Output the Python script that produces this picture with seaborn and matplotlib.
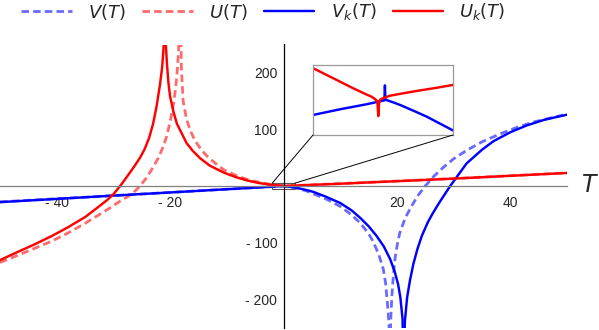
import matplotlib
matplotlib.use("Agg")
import numpy as np
import pandas as pd
import seaborn as sns
import matplotlib.pyplot as plt
from matplotlib.patches import Rectangle, ConnectionPatch
from matplotlib.lines import Line2D

# ---------------- data ----------------
# V(T) dashed light blue, two branches around its pole (~T=18.7)
V_T_a = [-50, -40, -30, -20, -10, -5, 0, 2, 4, 5.3, 7.5, 10, 12, 13.5, 15, 15.8, 16.8, 17.6, 18.0, 18.3, 18.6, 18.72]
V_a = [-28, -22.5, -17, -11.3, -5.7, -2.8, 0, -3, -8.5, -14, -23, -36, -51, -65, -84, -98, -121, -147, -171, -204, -243, -300]
V_T_b = [18.82, 18.9, 19.1, 19.4, 19.7, 20.1, 20.5, 21.5, 22.5, 23.7, 25.0, 26.5, 28.2, 30, 32.3, 35, 38.2, 41, 44.1, 47, 50]
V_b = [-300, -240, -196, -155, -126, -102, -83, -56, -37, -17, 0, 17, 33, 48, 63, 78, 92, 103, 113, 120, 127]

# U(T) dashed light red, pole near T=-18.3
U_T_a = [-50, -47, -44.1, -41, -38.2, -35, -32.4, -30.5, -28.8, -27.5, -26.5, -25.3, -24.2, -23.0, -22.0, -21.2, -20.6, -20.0, -19.4, -19.0, -18.7, -18.5, -18.37]
U_a = [-135, -123, -111, -98, -84, -66, -50, -38, -26.5, -19, -12, 0, 14, 33, 51, 70, 88, 113, 145, 175, 208, 240, 300]
U_T_b = [-18.15, -18.0, -17.7, -17.1, -16.4, -15.6, -14.5, -13.5, -12, -10.6, -8, -5.9, -3, 0, 10, 20, 30, 40, 50]
U_b = [300, 205, 150, 118, 97, 80, 64, 53, 40, 29, 17, 10, 4, 0, 4.3, 8.7, 13.2, 18.2, 23.3]

# V_k(T) solid blue, pole near T=21.2
Vk_T_a = [-50, -40, -30, -20, -10, -5, 0, 2, 4, 5.3, 7.5, 10, 12, 13.5, 15, 16.4, 17.7, 18.8, 19.6, 20.2, 20.6, 21.0, 21.12]
Vk_a = [-28.5, -22.8, -17, -11.4, -5.7, -2.9, 0, -2.5, -7, -10.5, -19, -30, -43, -56, -71, -88, -107, -129, -151, -173, -196, -235, -300]
Vk_T_b = [21.25, 21.4, 21.8, 22.3, 22.9, 23.6, 24.4, 25.5, 26.4, 27.5, 29.4, 32.3, 35, 37, 40, 42.9, 46, 50]
Vk_b = [-300, -240, -197, -167, -138, -112, -88, -63, -47, -29, 0, 40, 64, 79, 95, 107, 117, 126]

# U_k(T) solid red, pole near T=-21
Uk_T_a = [-50, -47, -44.1, -41, -38.2, -35, -32.4, -31, -30, -28.8, -27.6, -26.5, -25.3, -24.5, -23.7, -23.0, -22.4, -21.8, -21.4, -21.15, -21.03]
Uk_a = [-131, -117, -104, -89, -74, -55, -35, -24, -14.5, 0, 16.5, 32, 50, 65, 85, 110, 140, 178, 210, 245, 300]
Uk_T_b = [-20.93, -20.75, -20.55, -20.3, -20.0, -19.4, -18.8, -17.7, -17.1, -16, -14.7, -13, -10.6, -8.5, -6.5, -4.5, -2.4, 0, 10, 20, 30, 40, 50]
Uk_b = [300, 250, 215, 183, 158, 131, 110, 88, 76, 62, 49, 36, 24, 16, 10, 5.5, 2.5, 0, 4, 8.5, 13, 18, 23]

# inset (zoom on -2 <= T <= 2)
Uk_in_T = [-2.0, -1.42, -0.85, -0.5, -0.32, -0.22, -0.16, -0.135, -0.11, -0.08, -0.03, 0.2, 0.6, 0.96, 1.5, 2.0]
Uk_in = [4.55, 3.1, 1.67, 0.85, 0.45, 0.1, -0.2, -2.3, -0.3, 0.05, 0.2, 0.61, 0.98, 1.29, 1.72, 2.16]
Vk_in_T = [-2.0, -1.23, -0.47, -0.13, 0.04, 0.055, 0.07, 0.11, 0.3, 0.49, 0.9, 1.25, 1.6, 2.0]
Vk_in = [-2.14, -1.33, -0.61, -0.24, -0.05, 2.1, 0.0, -0.02, -0.35, -0.71, -1.6, -2.38, -3.3, -4.35]

x_major = [-40, -20, 20, 40]
x_labels = ["- 40", "- 20", "20", "40"]
y_major = [-200, -100, 100, 200]
y_labels = ["- 200", "- 100", "100", "200"]

legend_labels = [r"$V(T)$", r"$U(T)$", r"$V_k(T)$", r"$U_k(T)$"]

# ---------------- styling ----------------
sns.set_style("white")
plt.rcParams["font.family"] = ["Liberation Sans", "DejaVu Sans"]

C_V = "#6a6aff"
C_U = "#ff6a6a"
C_VK = "#0000ff"
C_UK = "#ff0000"
DASH = (0, (2.7, 1.5))
LW_D = 2.0
LW_S = 1.75


def frame(Ta, Ya, Tb, Yb):
    return pd.DataFrame({
        "T": list(Ta) + list(Tb),
        "val": list(Ya) + list(Yb),
        "branch": ["a"] * len(Ta) + ["b"] * len(Tb),
    })


fig = plt.figure(figsize=(5.99, 3.30), dpi=100)
ax = fig.add_axes([0, 2.5 / 330, 567 / 599, 283 / 330])

for (Ta, Ya, Tb, Yb, col, lw, ls) in [
    (V_T_a, V_a, V_T_b, V_b, C_V, LW_D, DASH),
    (U_T_a, U_a, U_T_b, U_b, C_U, LW_D, DASH),
    (Vk_T_a, Vk_a, Vk_T_b, Vk_b, C_VK, LW_S, "-"),
    (Uk_T_a, Uk_a, Uk_T_b, Uk_b, C_UK, LW_S, "-"),
]:
    df = frame(Ta, Ya, Tb, Yb)
    sns.lineplot(data=df, x="T", y="val", units="branch", estimator=None,
                 sort=False, color=col, lw=lw, linestyle=ls, ax=ax, legend=False)

ax.set_xlim(-50, 50)
ax.set_ylim(-250, 250)
ax.set_xlabel("")
ax.set_ylabel("")
ax.spines["left"].set_position(("data", 0))
ax.spines["bottom"].set_position(("data", 0))
ax.spines["top"].set_visible(False)
ax.spines["right"].set_visible(False)
ax.spines["bottom"].set_color("#808080")
ax.spines["left"].set_color("black")
ax.spines["bottom"].set_linewidth(0.9)
ax.spines["left"].set_linewidth(0.9)

ax.set_xticks(x_major, x_labels)
ax.set_xticks(np.arange(-50, 51, 5), minor=True)
ax.set_yticks(y_major, y_labels)
ax.set_yticks(np.arange(-240, 241, 20), minor=True)
ax.tick_params(axis="x", which="major", direction="in", length=3.2, width=0.8,
               color="#808080", pad=7, labelsize=10)
ax.tick_params(axis="x", which="minor", direction="in", length=2.2, width=0.7,
               color="#808080")
ax.tick_params(axis="y", which="major", direction="in", length=3.2, width=0.8,
               color="black", pad=4.5, labelsize=10)
ax.tick_params(axis="y", which="minor", direction="in", length=2.2, width=0.7,
               color="black")
ax.set_facecolor("none")

fig.text(590 / 599, 1 - 186 / 330, r"$T$", fontsize=17, ha="center", va="center")

# zoom rectangle
ax.add_patch(Rectangle((-2, -5), 4, 10, fill=False, ec="#555555", lw=0.8, zorder=1))

# inset
axins = fig.add_axes([313 / 599, (330 - 135) / 330, 140 / 599, 70 / 330])
sns.lineplot(x=Vk_in_T, y=Vk_in, sort=False, estimator=None, color=C_VK, lw=LW_S, ax=axins)
sns.lineplot(x=Uk_in_T, y=Uk_in, sort=False, estimator=None, color=C_UK, lw=LW_S, ax=axins)
axins.set_xlim(-2, 2)
axins.set_ylim(-5, 5)
axins.set_xticks([])
axins.set_yticks([])
axins.set_xlabel("")
axins.set_ylabel("")
for s in axins.spines.values():
    s.set_color("#999999")
    s.set_linewidth(0.9)
    s.set_visible(True)

for xa, xb in [(0, -2), (1, 2)]:
    con = ConnectionPatch(xyA=(xa, 0), coordsA=axins.transAxes,
                          xyB=(xb, 5), coordsB=ax.transData,
                          color="black", lw=0.7)
    fig.add_artist(con)

handles = [
    Line2D([0], [0], color=C_V, lw=LW_D, linestyle=DASH),
    Line2D([0], [0], color=C_U, lw=LW_D, linestyle=DASH),
    Line2D([0], [0], color=C_VK, lw=LW_S),
    Line2D([0], [0], color=C_UK, lw=LW_S),
]
fig.legend(handles, legend_labels, loc="center", bbox_to_anchor=(0.44, 1 - 12 / 330),
           ncol=4, frameon=False, fontsize=13, handlelength=2.8, handletextpad=0.9,
           columnspacing=0.9, borderaxespad=0, borderpad=0)

fig.savefig("out.png", dpi=100)
